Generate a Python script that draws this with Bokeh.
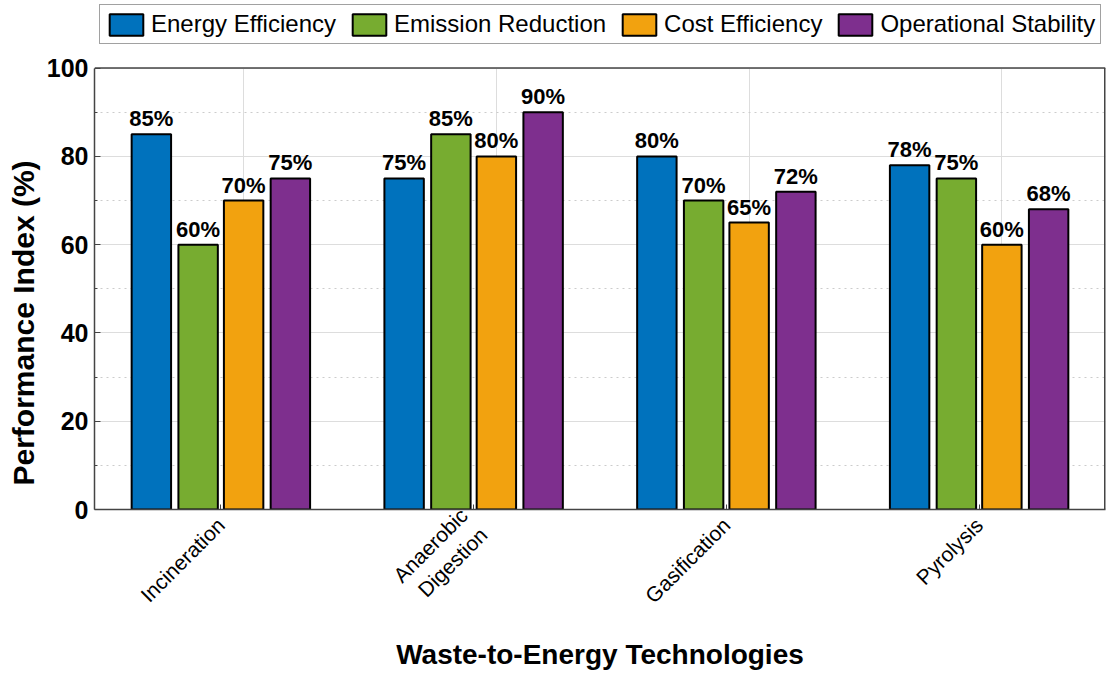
import numpy as np
from bokeh.plotting import figure
from bokeh.models import (ColumnDataSource, Range1d, FixedTicker, Legend, LegendItem,
                          Span, Title, Grid)
from bokeh.core.properties import value
from bokeh.embed import file_html
from bokeh.resources import INLINE

techs = ["Incineration", "Anaerobic\nDigestion", "Gasification", "Pyrolysis"]
series = ["Energy Efficiency", "Emission Reduction", "Cost Efficiency", "Operational Stability"]
energy_eff = [85, 75, 80, 78]
emission_red = [60, 85, 70, 75]
cost_eff = [70, 80, 65, 60]
op_stab = [75, 90, 72, 68]
y_ticks = [0, 20, 40, 60, 80, 100]
y_minor = [10, 30, 50, 70, 90]
colors = ["#0072BD", "#77AC30", "#F2A20F", "#7E2F8E"]

FONT = "Liberation Sans"
W, H = 1107, 673
F_LEFT, F_RIGHT, F_TOP, F_BOTTOM = 93, 1105, 2, 512   # frame edges in px
Y_TOP_PX = 68                                         # pixel row of value 100
y_end = 100 * (F_BOTTOM - F_TOP) / (F_BOTTOM - Y_TOP_PX)

p = figure(width=W, height=H, output_backend="svg", toolbar_location=None,
           x_range=Range1d(0.5, 4.5), y_range=Range1d(0, y_end),
           min_border_left=F_LEFT, min_border_right=W - F_RIGHT,
           min_border_top=F_TOP, min_border_bottom=H - F_BOTTOM)

pos = np.arange(1, len(techs) + 1)
offsets = [-0.275, -0.09, 0.09, 0.275]
bw = 0.156
items = []
for vals, name, col, off in zip([energy_eff, emission_red, cost_eff, op_stab], series, colors, offsets):
    src = ColumnDataSource(dict(x=pos + off, top=vals, lab=[f"{v}%" for v in vals]))
    r = p.vbar(x="x", top="top", width=bw, source=src, fill_color=col,
               line_color="black", line_width=2)
    p.text(x="x", y="top", text="lab", source=src, text_align="center",
           text_baseline="bottom", y_offset=-3, text_font=value(FONT),
           text_font_size="22px", text_font_style="bold", text_color="black")
    items.append(LegendItem(label=name, renderers=[r]))

# x axis
p.xaxis.ticker = FixedTicker(ticks=list(pos))
p.xaxis.major_label_overrides = {int(i): t for i, t in zip(pos, techs)}
p.xaxis.major_label_orientation = np.pi / 4
p.xaxis.major_label_text_font = FONT
p.xaxis.major_label_text_font_size = "21px"
p.xaxis.major_label_text_color = "black"
p.xaxis.major_label_standoff = 12
p.xaxis.axis_label = "Waste-to-Energy Technologies"
p.xaxis.axis_label_text_font = FONT
p.xaxis.axis_label_text_font_size = "28px"
p.xaxis.axis_label_text_font_style = "bold"
p.xaxis.axis_label_text_color = "black"
p.xaxis.axis_label_standoff = 12
p.xaxis.major_tick_in = 5
p.xaxis.major_tick_out = 0

# y axis
p.yaxis.ticker = FixedTicker(ticks=y_ticks, minor_ticks=y_minor)
p.yaxis.bounds = (y_ticks[0], y_ticks[-1])
p.yaxis.major_label_text_font = FONT
p.yaxis.major_label_text_font_size = "25px"
p.yaxis.major_label_text_font_style = "bold"
p.yaxis.major_label_text_color = "black"
p.yaxis.major_label_standoff = 6
p.yaxis.major_tick_in = 6
p.yaxis.major_tick_out = 0
p.yaxis.minor_tick_in = 3
p.yaxis.minor_tick_out = 0

for ax in (p.xaxis, p.yaxis):
    ax.axis_line_color = "#444444"
    ax.axis_line_width = 1.5
    ax.major_tick_line_color = "#444444"
    ax.minor_tick_line_color = "#444444"

p.add_layout(Title(text="Performance Index (%)", align="left", offset=24,
                   text_font=FONT, text_font_size="30px", text_font_style="bold",
                   text_color="black", standoff=8), "left")

# box around the data area (value 0..100)
p.outline_line_color = None
p.add_layout(Span(location=y_ticks[-1], dimension="width", line_color="#444444", line_width=1.5))
p.segment(x0=[p.x_range.end], y0=[y_ticks[0]], x1=[p.x_range.end], y1=[y_ticks[-1]],
          line_color="#444444", line_width=3)

# grids
p.xgrid.ticker = FixedTicker(ticks=list(pos + 0.09))
p.xgrid.grid_line_color = "#dddddd"
if "cross_bounds" in Grid.properties():
    p.xgrid.cross_bounds = (y_ticks[0], y_ticks[-1])
p.ygrid.grid_line_color = "#dddddd"
p.ygrid.minor_grid_line_color = "#cccccc"
p.ygrid.minor_grid_line_dash = "dotted"

legend = Legend(items=items, orientation="horizontal",
                location=(98 - F_LEFT, F_BOTTOM - 47),
                glyph_width=42, glyph_height=27, label_standoff=4, spacing=12,
                padding=5, margin=0, label_text_font=FONT, label_text_font_size="24px",
                label_text_color="black", border_line_color="#444444",
                border_line_width=1.5, background_fill_alpha=1)
p.add_layout(legend, "center")

open("out.html", "w").write(file_html(p, INLINE))
